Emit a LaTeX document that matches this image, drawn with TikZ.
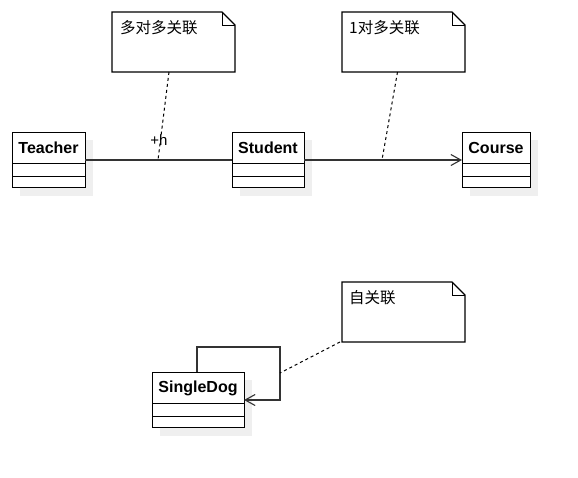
\documentclass[tikz,border=0pt]{standalone}
\usepackage{fontspec}
\setmainfont{Liberation Sans}
\newfontfamily\cjk{Noto Sans CJK SC}
\usetikzlibrary{arrows.meta}
\definecolor{shadowgray}{HTML}{EFEFEF}
\definecolor{linegray}{HTML}{333333}
\tikzset{
  x=1pt, y=-1pt,
  classbox/.style={draw=black, line width=1pt, fill=white, minimum height=55pt, inner sep=0pt, outer sep=0pt},
  classname/.style={font=\fontsize{16}{18}\selectfont\bfseries, inner sep=0pt},
  notebox/.style={minimum width=123pt, minimum height=60pt, inner sep=0pt, outer sep=0pt},
  notetext/.style={font=\cjk\fontsize{15.5}{17}\selectfont, inner sep=0pt, anchor=west},
  assoc/.style={draw=linegray, line width=1.2pt},
  notelink/.style={draw=black, line width=1pt, dash pattern=on 3pt off 3pt},
  openarrow/.style={-{Straight Barb[length=10pt,width=11pt,line width=1.1pt]}}
}
\newcommand{\umlclass}[4]{% name, center x, center y, width
  \fill[shadowgray] (#2-#4/2+8,132+8-160+#3) rectangle (#2+#4/2+8,188+8-160+#3);
  \node[classbox, minimum width=#4 pt] (#1) at (#2,#3) {};
  \draw[line width=1pt] ([yshift=-31pt]#1.north west) -- ([yshift=-31pt]#1.north east);
  \draw[line width=1pt] ([yshift=-44pt]#1.north west) -- ([yshift=-44pt]#1.north east);
}
\newcommand{\umlnote}[3]{% name, center x, center y
  \node[notebox] (#1) at (#2,#3) {};
  \draw[line width=1.1pt, fill=white] (#1.north west) -- ([xshift=-13pt]#1.north east) -- ([yshift=-13pt]#1.north east) -- (#1.south east) -- (#1.south west) -- cycle;
  \draw[line width=0.9pt] ([xshift=-13pt]#1.north east) -- ([xshift=-13pt,yshift=-13pt]#1.north east) -- ([yshift=-13pt]#1.north east);
}
\begin{document}
\begin{tikzpicture}
\useasboundingbox (0,0) rectangle (578,477);
% classes
\umlclass{teacher}{48.5}{160}{73}
\node[classname] (teachername) at (48.5,148) {Teacher};
\umlclass{student}{268}{160}{72}
\node[classname] (studentname) at (268,148) {Student};
\umlclass{course}{496}{160}{68}
\node[classname] (coursename) at (496,148) {Course};
\umlclass{singledog}{198}{399.5}{92}
\node[classname] (singledogname) at (198,388) {SingleDog};
% notes
\umlnote{n1}{173.5}{42}
\node[notetext] (n1text) at (120,28) {多对多关联};
\umlnote{n2}{403.5}{42}
\node[notetext] (n2text) at (349,28) {1对多关联};
\umlnote{n3}{403.5}{312}
\node[notetext] (n3text) at (349,298) {自关联};
% associations
\draw[assoc] (teacher.east) -- coordinate[pos=0.5] (m1) (student.west);
\node[font=\fontsize{15}{17}\selectfont, inner sep=0pt] (hlabel) at (159,140) {+h};
\draw[assoc, openarrow] (student.east) -- (course.west);
\coordinate (m2) at (382,160);
\coordinate (loopa) at (197,347);
\coordinate (loopb) at (280,347);
\coordinate (loopc) at (280,400);
\coordinate (m3) at (280,373);
\draw[assoc, openarrow] ([xshift=-1pt]singledog.north) -- ([xshift=-1pt]singledog.north |- loopa) -- (loopb) -- (loopc) -- (singledog.east |- loopc);
% note links
\draw[notelink] ([xshift=-4.5pt]n1.south) -- (158,160);
\draw[notelink] ([xshift=-6pt]n2.south) -- (m2);
\draw[notelink] ([xshift=-2pt]n3.south west) -- (m3);
\end{tikzpicture}
\end{document}
